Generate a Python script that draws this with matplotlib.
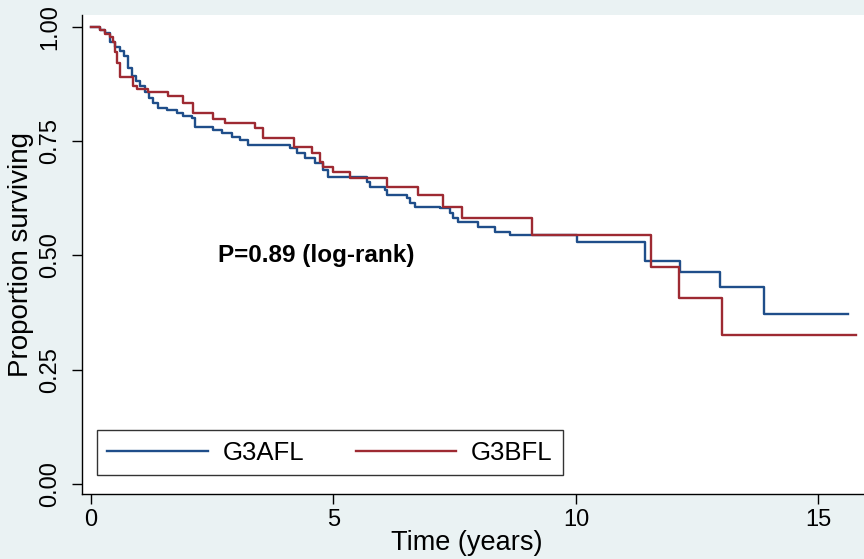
import matplotlib
matplotlib.use("Agg")
import matplotlib.pyplot as plt

plt.rcParams['font.family'] = ['Liberation Sans', 'DejaVu Sans']

# Kaplan-Meier step points (time in years, proportion surviving)
blue_t = [0, 0.19, 0.29, 0.39, 0.49, 0.60, 0.68, 0.76, 0.85, 0.93, 1.01, 1.11,
          1.20, 1.28, 1.38, 1.57, 1.77, 1.90, 2.08, 2.14, 2.52, 2.70, 2.91, 3.07,
          3.24, 4.10, 4.25, 4.41, 4.62, 4.78, 4.89, 5.69, 5.75, 6.06, 6.10, 6.52,
          6.58, 6.68, 7.20, 7.40, 7.46, 7.57, 7.98, 8.33, 8.64, 10.02, 11.42,
          12.14, 12.97, 13.88, 15.6]
blue_s = [1.0, 0.993, 0.987, 0.967, 0.956, 0.947, 0.937, 0.910, 0.893, 0.882,
          0.871, 0.858, 0.844, 0.834, 0.823, 0.818, 0.812, 0.805, 0.801, 0.781,
          0.775, 0.768, 0.759, 0.753, 0.742, 0.735, 0.724, 0.713, 0.702, 0.687,
          0.672, 0.661, 0.650, 0.643, 0.632, 0.626, 0.615, 0.606, 0.604, 0.593,
          0.582, 0.573, 0.562, 0.551, 0.545, 0.530, 0.488, 0.464, 0.431, 0.372,
          0.372]

red_t = [0, 0.19, 0.29, 0.39, 0.45, 0.49, 0.54, 0.60, 0.87, 0.95, 1.17, 1.59,
         1.90, 2.10, 2.52, 2.76, 3.38, 3.55, 4.18, 4.56, 4.72, 4.78, 4.99, 5.34,
         6.10, 6.74, 7.26, 7.65, 9.09, 11.55, 12.12, 13.01, 15.77]
red_s = [1.0, 0.993, 0.985, 0.978, 0.967, 0.945, 0.92, 0.891, 0.871, 0.864,
         0.858, 0.849, 0.834, 0.812, 0.799, 0.790, 0.779, 0.757, 0.737, 0.724,
         0.705, 0.694, 0.683, 0.670, 0.650, 0.632, 0.606, 0.582, 0.545, 0.475,
         0.407, 0.326, 0.326]

labels = ["G3AFL", "G3BFL"]
xticks = [0, 5, 10, 15]
yticks = [0.0, 0.25, 0.5, 0.75, 1.0]
ytick_labels = ["0.00", "0.25", "0.50", "0.75", "1.00"]

bg = "#eaf2f3"
fig = plt.figure(figsize=(8.64, 5.59), dpi=100, facecolor=bg)
ax = fig.add_axes([82/864, 65/559, 782/864, 479/559])
ax.set_facecolor("white")

ax.plot(blue_t, blue_s, drawstyle="steps-post", color="#1f4e8a", lw=1.7, label=labels[0])
ax.plot(red_t, red_s, drawstyle="steps-post", color="#9e2a32", lw=1.7, label=labels[1])

ax.set_xlim(-0.186, 15.94)
ax.set_ylim(-0.022, 1.026)
ax.set_xticks(xticks)
ax.set_yticks(yticks)
ax.set_yticklabels(ytick_labels, rotation=90, va="center")
ax.tick_params(axis="x", length=7, width=1, labelsize=17, pad=4)
ax.tick_params(axis="y", length=7, width=1, labelsize=17, pad=8)
for s in ["top", "right"]:
    ax.spines[s].set_visible(False)
for s in ["left", "bottom"]:
    ax.spines[s].set_linewidth(1)

ax.set_xlabel("Time (years)", fontsize=19.5, labelpad=0)
ax.xaxis.set_label_coords(0.492, -0.075)
ax.set_ylabel("Proportion surviving", fontsize=20, labelpad=4)

ax.text(2.62, 0.499, "P=0.89 (log-rank)", fontsize=17.5, fontweight="bold", va="center")

leg = ax.legend(loc="lower left", bbox_to_anchor=(0.0192, 0.0397, 0.596, 0.098),
                mode="expand", ncol=2, fontsize=18.5, frameon=True, fancybox=False,
                borderaxespad=0, handlelength=3.9, handletextpad=0.6,
                borderpad=0.4)
leg.get_frame().set_edgecolor("black")
leg.get_frame().set_linewidth(1)

fig.savefig("out.png", dpi=100, facecolor=bg)
